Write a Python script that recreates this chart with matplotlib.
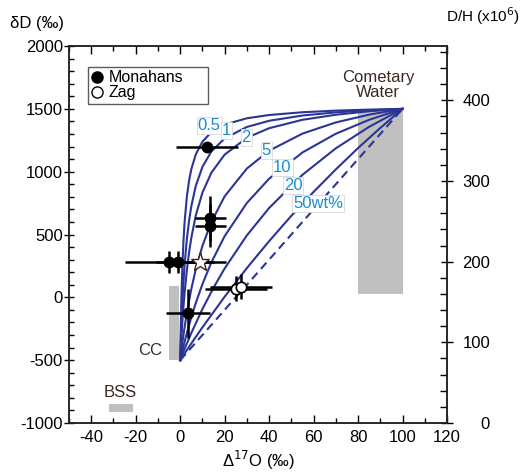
import matplotlib
matplotlib.use("Agg")
import matplotlib.pyplot as plt
from matplotlib.lines import Line2D
from matplotlib.ticker import MultipleLocator

plt.rcParams['font.family'] = ['Liberation Sans', 'DejaVu Sans']
plt.rcParams['axes.unicode_minus'] = False

# ---- data ----
# mixing curves (Δ17O, δD)
curve_labels = ["0.5", "1", "2", "5", "10", "20", "50wt%"]
c05_x = [0, 0.25, 0.5, 1, 1.5, 2, 3, 4, 5, 7, 10, 14, 20, 30, 40, 55, 70, 85, 100]
c05_y = [-500, -239, -37, 255, 455, 601, 800, 929, 1019, 1137, 1239, 1314, 1375, 1425, 1451, 1473, 1486, 1494, 1500]
c1_x = [0, 0.25, 0.5, 1, 1.5, 2, 3, 4, 5, 7, 10, 14, 20, 30, 40, 55, 70, 85, 100]
c1_y = [-500, -360, -238, -35, 127, 260, 463, 611, 724, 886, 1038, 1160, 1265, 1356, 1405, 1447, 1472, 1488, 1500]
c2_x = [0, 0.25, 0.5, 1, 1.5, 2, 3, 4, 5, 7, 10, 14, 20, 30, 40, 55, 70, 85, 100]
c2_y = [-500, -414, -334, -192, -70, 37, 215, 357, 473, 651, 833, 991, 1136, 1270, 1346, 1413, 1453, 1481, 1500]
c5_x = [0, 0.5, 1, 2, 3, 5, 7, 10, 14, 20, 30, 40, 55, 70, 85, 100]
c5_y = [-500, -427, -359, -235, -123, 66, 222, 409, 599, 804, 1025, 1167, 1303, 1392, 1454, 1500]
c10_x = [0, 1, 2, 3, 5, 7, 10, 14, 20, 30, 40, 55, 70, 85, 100]
c10_y = [-500, -424, -353, -285, -159, -46, 105, 277, 487, 751, 944, 1153, 1302, 1413, 1500]
c20_x = [0, 2, 5, 10, 15, 20, 30, 40, 55, 70, 85, 100]
c20_y = [-500, -410, -284, -93, 77, 230, 493, 711, 975, 1186, 1357, 1500]
c50_x = [0, 5, 10, 20, 30, 40, 50, 60, 70, 80, 90, 100]
c50_y = [-500, -367, -239, 5, 233, 447, 649, 839, 1018, 1188, 1348, 1500]
# dashed straight mixing line
dash_x = [0, 100]
dash_y = [-500, 1500]

label_x = [13, 21, 29.7, 38.7, 46, 50.8, 62]
label_y = [1369, 1329, 1274, 1170, 1035, 891, 748]

# Monahans (filled)
mon_x = [12, 13.5, 13.5, -5, -1, 3.6]
mon_y = [1200, 630, 570, 280, 280, -125]
mon_xerr = [14, 7, 7, 20, 10, 10]
mon_yerr = [30, 180, 170, 85, 90, 195]
# Zag (open)
zag_x = [25, 27.5]
zag_y = [70, 85]
zag_xerr = [14, 14]
zag_yerr = [100, 100]
# star
star_x = [9]
star_y = [280]
star_xerr = [11.7]

# grey fields: (x0, x1, y0, y1)
cc_box = [-5, -0.5, -500, 90]
comet_box = [80, 100, 30, 1500]
bss_box = [-32, -21, -915, -850]

SMOW = 155.76  # D/H x10^6

fig = plt.figure(figsize=(5.22, 4.73), dpi=100)
ax = fig.add_axes([0.1322, 0.1057, 0.7241, 0.797])

grey = "#c0c0c0"
for b in (cc_box, comet_box, bss_box):
    ax.fill_between([b[0], b[1]], b[2], b[3], color=grey, lw=0, zorder=1)

navy = "#2b3596"
curves = [(c05_x, c05_y), (c1_x, c1_y), (c2_x, c2_y), (c5_x, c5_y),
          (c10_x, c10_y), (c20_x, c20_y), (c50_x, c50_y)]
for cx, cy in curves:
    ax.plot(cx, cy, color=navy, lw=1.5, zorder=2)
ax.plot(dash_x, dash_y, color=navy, lw=1.5, ls=(0, (4, 2.5)), zorder=2)

lblue = "#1a8cd0"
for t, lx, ly in zip(curve_labels, label_x, label_y):
    ax.text(lx, ly, t, color=lblue, fontsize=12, ha='center', va='center', zorder=3,
            bbox=dict(boxstyle='square,pad=0.06', fc='white', ec='#d8d8d8', lw=0.6))

ax.errorbar(mon_x, mon_y, xerr=mon_xerr, yerr=mon_yerr, fmt='o', color='black',
            ms=7.5, mfc='black', mec='black', elinewidth=1.8, capsize=0, zorder=5)
ax.errorbar(zag_x, zag_y, xerr=zag_xerr, yerr=zag_yerr, fmt='o', color='black',
            ms=7.5, mfc='white', mec='black', mew=1.2, elinewidth=1.8, capsize=0, zorder=5)
ax.errorbar(star_x, star_y, xerr=star_xerr, fmt='*', color='black', ms=14,
            mfc='white', mec='#3b2418', mew=1.0, elinewidth=1.8, capsize=0, zorder=6)

brown = "#3a2a22"
ax.text(-8, -420, "CC", color=brown, fontsize=12, ha='right', va='center')
ax.text(-27, -760, "BSS", color=brown, fontsize=12, ha='center', va='center')
ax.text(89, 1690, "Cometary\nWater", color=brown, fontsize=12, ha='center', va='center',
        linespacing=1.0)

ax.set_xlim(-50, 120)
ax.set_ylim(-1000, 2000)
ax.xaxis.set_major_locator(MultipleLocator(20))
ax.xaxis.set_minor_locator(MultipleLocator(10))
ax.yaxis.set_major_locator(MultipleLocator(500))
ax.yaxis.set_minor_locator(MultipleLocator(100))
ax.tick_params(axis='x', which='major', direction='in', length=6, width=1, top=True,
               labelsize=12, pad=5)
ax.tick_params(axis='x', which='minor', direction='in', length=3.5, width=1, top=True)
ax.tick_params(axis='y', which='major', direction='inout', length=7, width=1, labelsize=12, pad=1)
ax.tick_params(axis='y', which='minor', direction='in', length=3.5, width=1)
for s in ax.spines.values():
    s.set_linewidth(1.1)
    s.set_color('#222222')

ax.set_xlabel("Δ$^{17}$O (‰)", fontsize=12, labelpad=3)
fig.text(0.02, 0.95, "δD (‰)", fontsize=12, ha='left', va='center')
fig.text(0.925, 0.965, "D/H (x10$^6$)", fontsize=11, ha='center', va='center')

ax2 = ax.twinx()
ax2.set_ylim(SMOW * 0, SMOW * 3)
ax2.yaxis.set_major_locator(MultipleLocator(100))
ax2.yaxis.set_minor_locator(MultipleLocator(20))
ax2.tick_params(axis='y', which='major', direction='inout', length=8, width=1,
                labelsize=12, pad=27)
ax2.tick_params(axis='y', which='minor', direction='in', length=5, width=1)
for lab in ax2.get_yticklabels():
    lab.set_horizontalalignment('right')
for s in ax2.spines.values():
    s.set_linewidth(1.1)
    s.set_color('#222222')

handles = [Line2D([], [], marker='o', ls='none', color='black', mfc='black', ms=8),
           Line2D([], [], marker='o', ls='none', color='black', mfc='white', ms=8, mew=1)]
leg = ax.legend(handles, ["Monahans", "Zag"], loc='upper left',
                bbox_to_anchor=(0.05, 0.85, 0.3175, 0.094), mode='expand',
                borderaxespad=0, fontsize=11.5, frameon=True, fancybox=False,
                handlelength=0.8, handletextpad=0.3, labelspacing=0.0, borderpad=0.2)
leg.get_frame().set_edgecolor('#333333')
leg.get_frame().set_linewidth(1.0)

fig.savefig("out.png", dpi=100)
